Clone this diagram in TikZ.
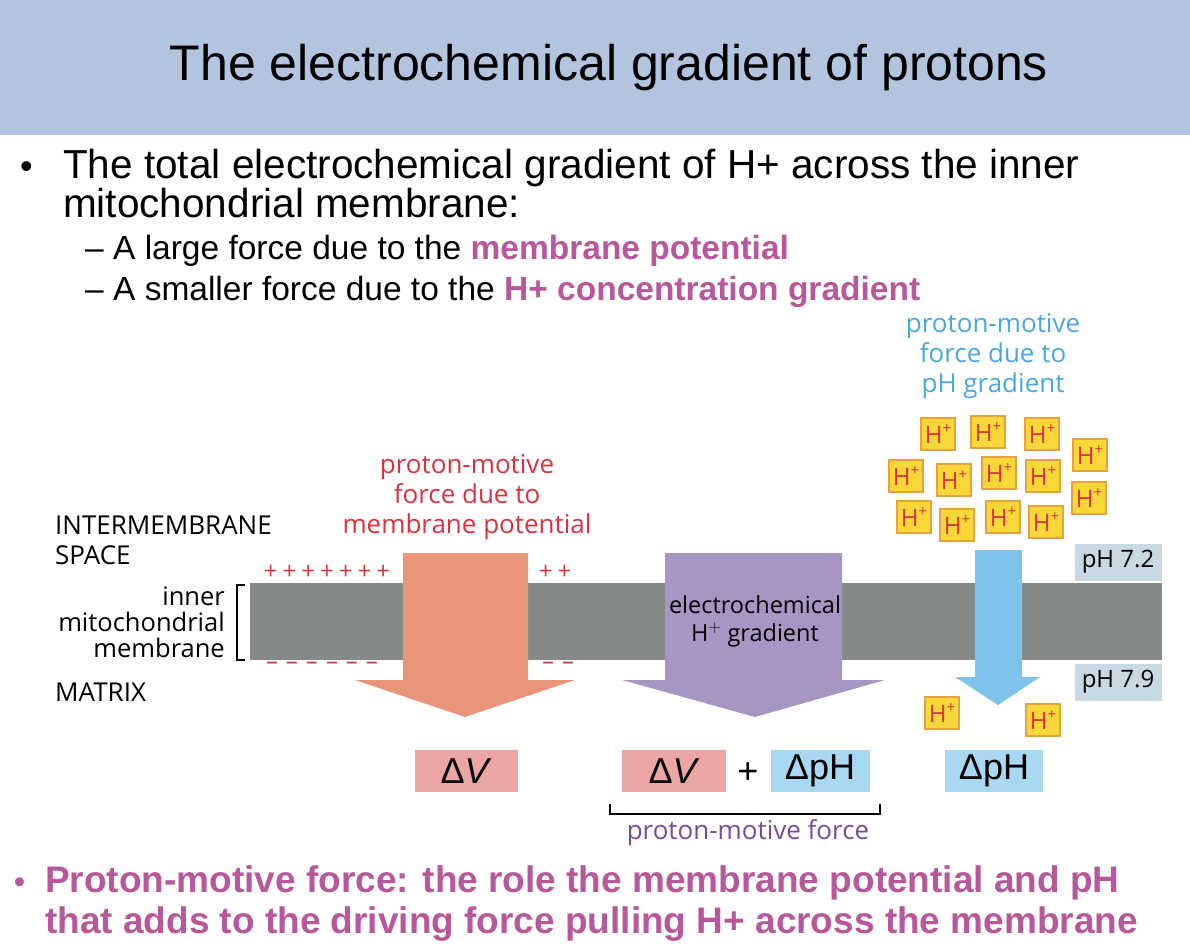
\documentclass[tikz,border=0pt]{standalone}
\usepackage{fontspec}
\setmainfont{Liberation Sans}
\newfontfamily\lab{Open Sans}
\usetikzlibrary{positioning}
\definecolor{hdr}{HTML}{B3C4DF}
\definecolor{pinkt}{HTML}{B8579A}
\definecolor{memb}{HTML}{858A89}
\definecolor{redt}{HTML}{D9333F}
\definecolor{orar}{HTML}{E8957A}
\definecolor{purar}{HTML}{A796C4}
\definecolor{bluar}{HTML}{7DC3EA}
\definecolor{bluet}{HTML}{4AA8DC}
\definecolor{phbox}{HTML}{C9D9E4}
\definecolor{hy}{HTML}{F8D838}
\definecolor{hyb}{HTML}{E8A040}
\definecolor{dvbox}{HTML}{EDA6A6}
\definecolor{dpbox}{HTML}{A9D8F2}
\definecolor{pmf}{HTML}{7A4A9A}
\tikzset{
 hp/.style={draw=hyb,line width=1.2pt,fill=hy,minimum width=34pt,minimum height=32pt,inner sep=0pt,text=redt,font=\lab\fontsize{24}{24}\selectfont},
 lbl/.style={font=\lab\fontsize{26}{30}\selectfont,align=center,inner sep=0pt},
 sml/.style={font=\lab\fontsize{26}{26}\selectfont,inner sep=0pt},
 body/.style={anchor=base west,inner sep=0pt},
 chg/.style={font=\lab\fontsize{24}{24}\selectfont,text=redt,inner sep=0pt},
 eq/.style={inner sep=0pt,minimum height=42pt,font=\fontsize{36}{36}\selectfont}
}
\begin{document}
\begin{tikzpicture}[x=1pt,y=-1pt]
\useasboundingbox (0,0) rectangle (1190,947);
\fill[hdr] (0,0) rectangle (1190,135);
\node[font=\fontsize{50}{50}\selectfont] (title) at (609,68) {The electrochemical gradient of protons};
% bullets
\node[body,font=\fontsize{36}{36}\selectfont] (b0) at (20,178) {•};
\node[body,font=\fontsize{40.5}{40}\selectfont] (b1) at (63,178) {The total electrochemical gradient of H+ across the inner};
\node[body,font=\fontsize{40.5}{40}\selectfont] (b2) at (63,217) {mitochondrial membrane:};
\node[body,font=\fontsize{33.5}{33}\selectfont] (s1) at (85,259) {– A large force due to the \textcolor{pinkt}{\bfseries membrane potential}};
\node[body,font=\fontsize{33.5}{33}\selectfont] (s2) at (85,300) {– A smaller force due to the \textcolor{pinkt}{\bfseries H+ concentration gradient}};
% membrane
\fill[memb] (250,583) rectangle (1162,660);
\draw[line width=1.5pt] (245,585) -- (237,585) -- (237,660) -- (245,660);
\node[align=right,anchor=east,inner sep=0pt,font=\lab\fontsize{25.5}{26}\selectfont] (imm) at (225,622) {inner\\mitochondrial\\membrane};
\node[sml,align=left,anchor=west,font=\lab\fontsize{26}{30}\selectfont] (ims) at (55,540) {INTERMEMBRANE\\SPACE};
\node[sml,anchor=west] (mat) at (55,692) {MATRIX};
\node[chg] (plus1) at (327,572) {+\kern5pt+\kern5pt+\kern5pt+\kern5pt+\kern5pt+\kern5pt+};
\node[chg] (plus2) at (555,572) {+\kern5pt+};
\node[chg] (min1) at (322,666) {–\kern8pt–\kern8pt–\kern8pt–\kern8pt–\kern8pt–};
\node[chg] (min2) at (558,666) {–\kern8pt–};
% arrows
\fill[orar] (403,553) -- (528,553) -- (528,680) -- (575,680) -- (465,717) -- (355,680) -- (403,680) -- cycle;
\fill[purar] (665,553) -- (842,553) -- (842,680) -- (885,680) -- (755,717) -- (622,680) -- (665,680) -- cycle;
\fill[bluar] (975,550) -- (1022,550) -- (1022,677) -- (1040,677) -- (998,705) -- (955,677) -- (975,677) -- cycle;
\node[lbl,text=redt] (l1) at (467,497) {proton-motive\\force due to\\membrane potential};
\node[lbl,text=bluet] (l3) at (993,356) {proton-motive\\force due to\\pH gradient};
\node[align=center,inner sep=0pt,font=\lab\fontsize{23.5}{28}\selectfont] (l2) at (755,621) {electrochemical\\H$^{+}$ gradient};
\node[fill=phbox,minimum width=87pt,minimum height=37pt,inner sep=0pt,font=\lab\fontsize{24}{24}\selectfont] (ph1) at (1118,562) {pH 7.2};
\node[fill=phbox,minimum width=87pt,minimum height=37pt,inner sep=0pt,font=\lab\fontsize{24}{24}\selectfont] (ph2) at (1118,682) {pH 7.9};
% protons
\foreach \n/\x/\y in {a/938/434,b/988/432,c/1042/434,d/1090/455,e/906/476,f/954/480,g/999/473,h/1043/476,i/1089/498,j/914/517,k/957/525,l/1003/517,m/1046/522,n/942/713,o/1043/720}
  \node[hp] (h\n) at (\x,\y) {H\raisebox{0.45em}{\fontsize{15}{15}\selectfont+}};
% equation
\node[eq,fill=dvbox,minimum width=103pt] (dv1) at (466,771) {Δ\textit{V}};
\node[eq,fill=dvbox,minimum width=104pt] (dv2) at (674,771) {Δ\textit{V}};
\node[eq] (plus) at (748,773) {+};
\node[eq,fill=dpbox,minimum width=99pt] (dp1) at (820,771) {ΔpH};
\node[eq,fill=dpbox,minimum width=98pt] (dp2) at (994,771) {ΔpH};
\node[font=\lab\fontsize{26}{26}\selectfont,text=pmf,inner sep=0pt] (pmf) at (748,833) {proton-motive force};
\draw[line width=1.2pt] (610,804) -- (610,814) -- (880,814) -- (880,804);
% bottom bullet
\node[body,font=\fontsize{31}{31}\selectfont\bfseries,text=pinkt] (c0) at (14,892) {•};
\node[body,font=\fontsize{37}{37}\selectfont\bfseries,text=pinkt] (c1) at (45,892) {Proton-motive force: the role the membrane potential and pH};
\node[body,font=\fontsize{37}{37}\selectfont\bfseries,text=pinkt] (c2) at (45,933) {that adds to the driving force pulling H+ across the membrane};
\end{tikzpicture}
\end{document}
